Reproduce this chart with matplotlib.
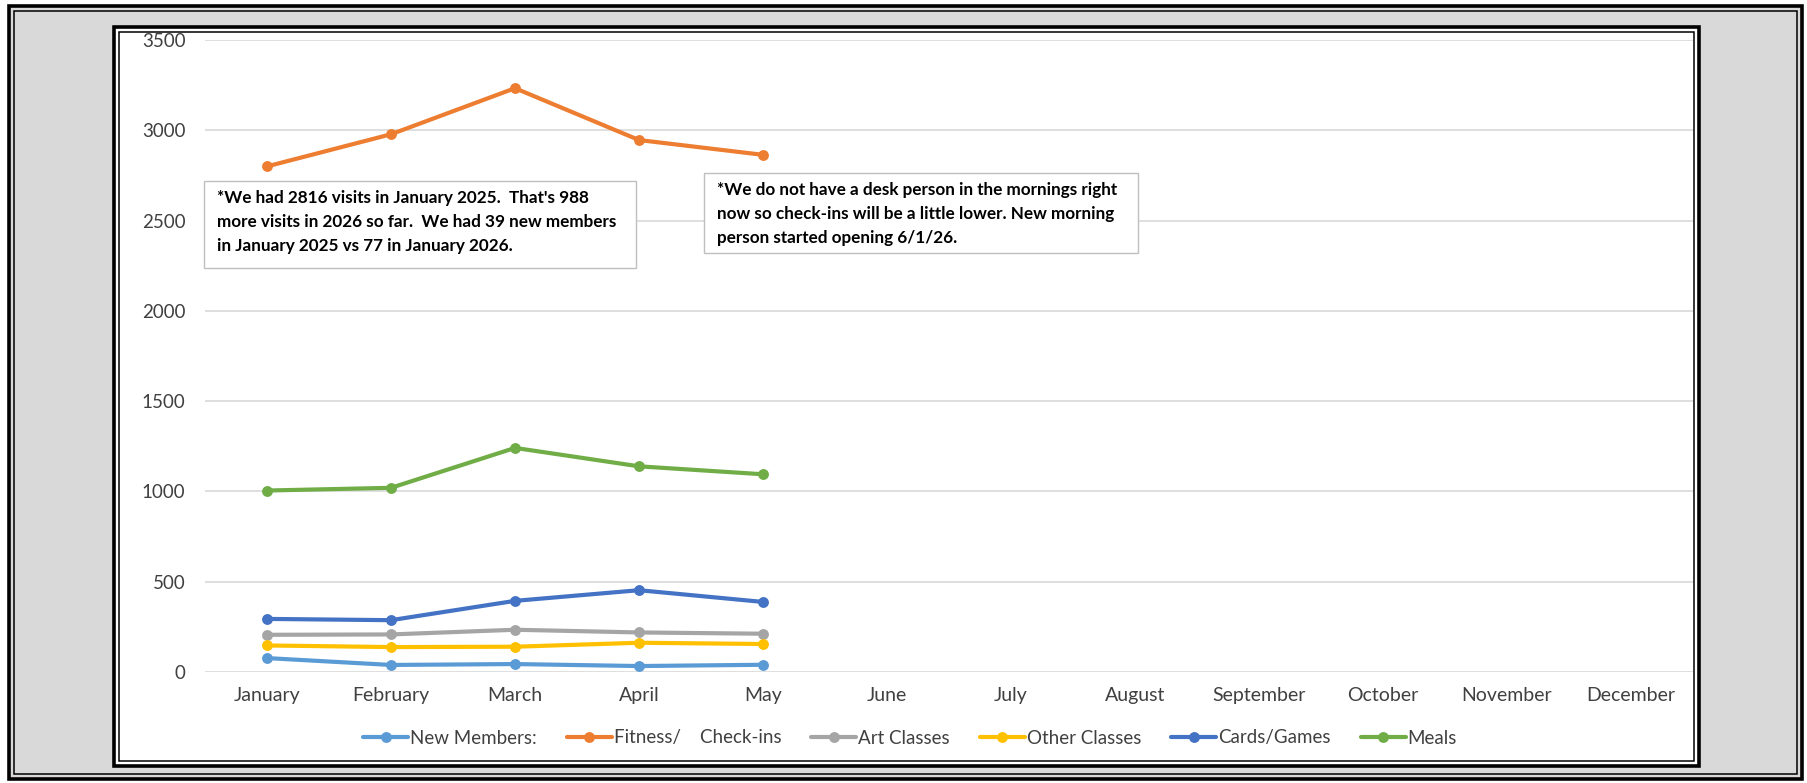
import matplotlib
matplotlib.use("Agg")
import matplotlib.pyplot as plt
import matplotlib.patches as patches

W, H = 1807, 783

months = ["January", "February", "March", "April", "May", "June", "July",
          "August", "September", "October", "November", "December"]
new_members = [77, 39, 44, 33, 40]
fitness = [2800, 2978, 3233, 2946, 2864]
art_classes = [206, 208, 234, 219, 212]
other_classes = [147, 138, 140, 162, 155]
cards_games = [294, 287, 394, 453, 388]
meals = [1005, 1020, 1241, 1139, 1095]

series = [
    ("New Members:", new_members, "#5B9BD5"),
    ("Fitness/    Check-ins", fitness, "#ED7D31"),
    ("Art Classes", art_classes, "#A5A5A5"),
    ("Other Classes", other_classes, "#FFC000"),
    ("Cards/Games", cards_games, "#4472C4"),
    ("Meals", meals, "#70AD47"),
]

note1 = ("*We had 2816 visits in January 2025.  That's 988\n"
         "more visits in 2026 so far.  We had 39 new members\n"
         "in January 2025 vs 77 in January 2026.")
note2 = ("*We do not have a desk person in the mornings right\n"
         "now so check-ins will be a little lower. New morning\n"
         "person started opening 6/1/26.")

text_col = "#404040"


def fx(x):
    return x / W


def fy(y):
    return 1 - y / H


def frame(fig, x0, y0, x1, y1, face):
    # double border: thick outer line, thin inner line
    fig.patches.append(patches.Rectangle(
        (fx(x0), fy(y1)), fx(x1) - fx(x0), fy(y0) - fy(y1),
        transform=fig.transFigure, facecolor=face, edgecolor="black",
        linewidth=2.6, zorder=-3))
    fig.patches.append(patches.Rectangle(
        (fx(x0 + 5), fy(y1 - 5)), fx(x1 - x0 - 10), fy(y0 + 5) - fy(y1 - 5),
        transform=fig.transFigure, facecolor="none", edgecolor="black",
        linewidth=1.1, zorder=-3))


fig = plt.figure(figsize=(W / 100, H / 100), dpi=100)
fig.patch.set_facecolor("white")
frame(fig, 9, 6, 1802, 779, "#D9D9D9")
frame(fig, 114, 27, 1699, 766, "white")

ax = fig.add_axes([fx(205), fy(672), fx(1693) - fx(205), fy(40) - fy(672)])
ax.set_facecolor("none")
ax.set_zorder(1)

x = list(range(len(months)))
for name, vals, col in series:
    ax.plot(x[:len(vals)], vals, color=col, lw=3.0, marker="o", ms=6.8,
            label=name, zorder=3, solid_capstyle="round")

ax.set_xlim(-0.5, len(months) - 0.5)
ax.set_ylim(0, 3500)
ax.set_yticks(range(0, 3501, 500))
ax.set_xticks(x)
ax.set_xticklabels(months)
ax.grid(axis="y", color="#D9D9D9", lw=1.2)
ax.set_axisbelow(True)
for s in ax.spines.values():
    s.set_visible(False)
ax.tick_params(axis="x", length=0, labelsize=14, labelcolor=text_col, pad=11)
ax.tick_params(axis="y", length=0, labelsize=13.5, labelcolor=text_col, pad=14)
for lab in ax.get_xticklabels() + ax.get_yticklabels():
    lab.set_family("Lato")

leg = fig.legend(loc="center", bbox_to_anchor=(fx(910), fy(738)), ncol=6,
                 frameon=False, handlelength=2.4, handletextpad=0.1,
                 columnspacing=1.6, prop={"family": "Lato", "size": 13.5})
for t in leg.get_texts():
    t.set_color(text_col)

# annotation boxes
for (x0, y0, x1, y1), tx, ty, note in [
    ((204, 181, 636, 268), 217, 190, note1),
    ((704, 173, 1138, 253), 717, 182, note2),
]:
    fig.patches.append(patches.Rectangle(
        (fx(x0), fy(y1)), fx(x1) - fx(x0), fy(y0) - fy(y1),
        transform=fig.transFigure, facecolor="white", edgecolor="#BFBFBF",
        linewidth=1.0, zorder=4))
    fig.text(fx(tx), fy(ty), note, ha="left", va="top", fontsize=12.3,
             fontweight="bold", family="Lato", color="black",
             linespacing=1.62, zorder=5)

fig.savefig("out.png", dpi=100)
